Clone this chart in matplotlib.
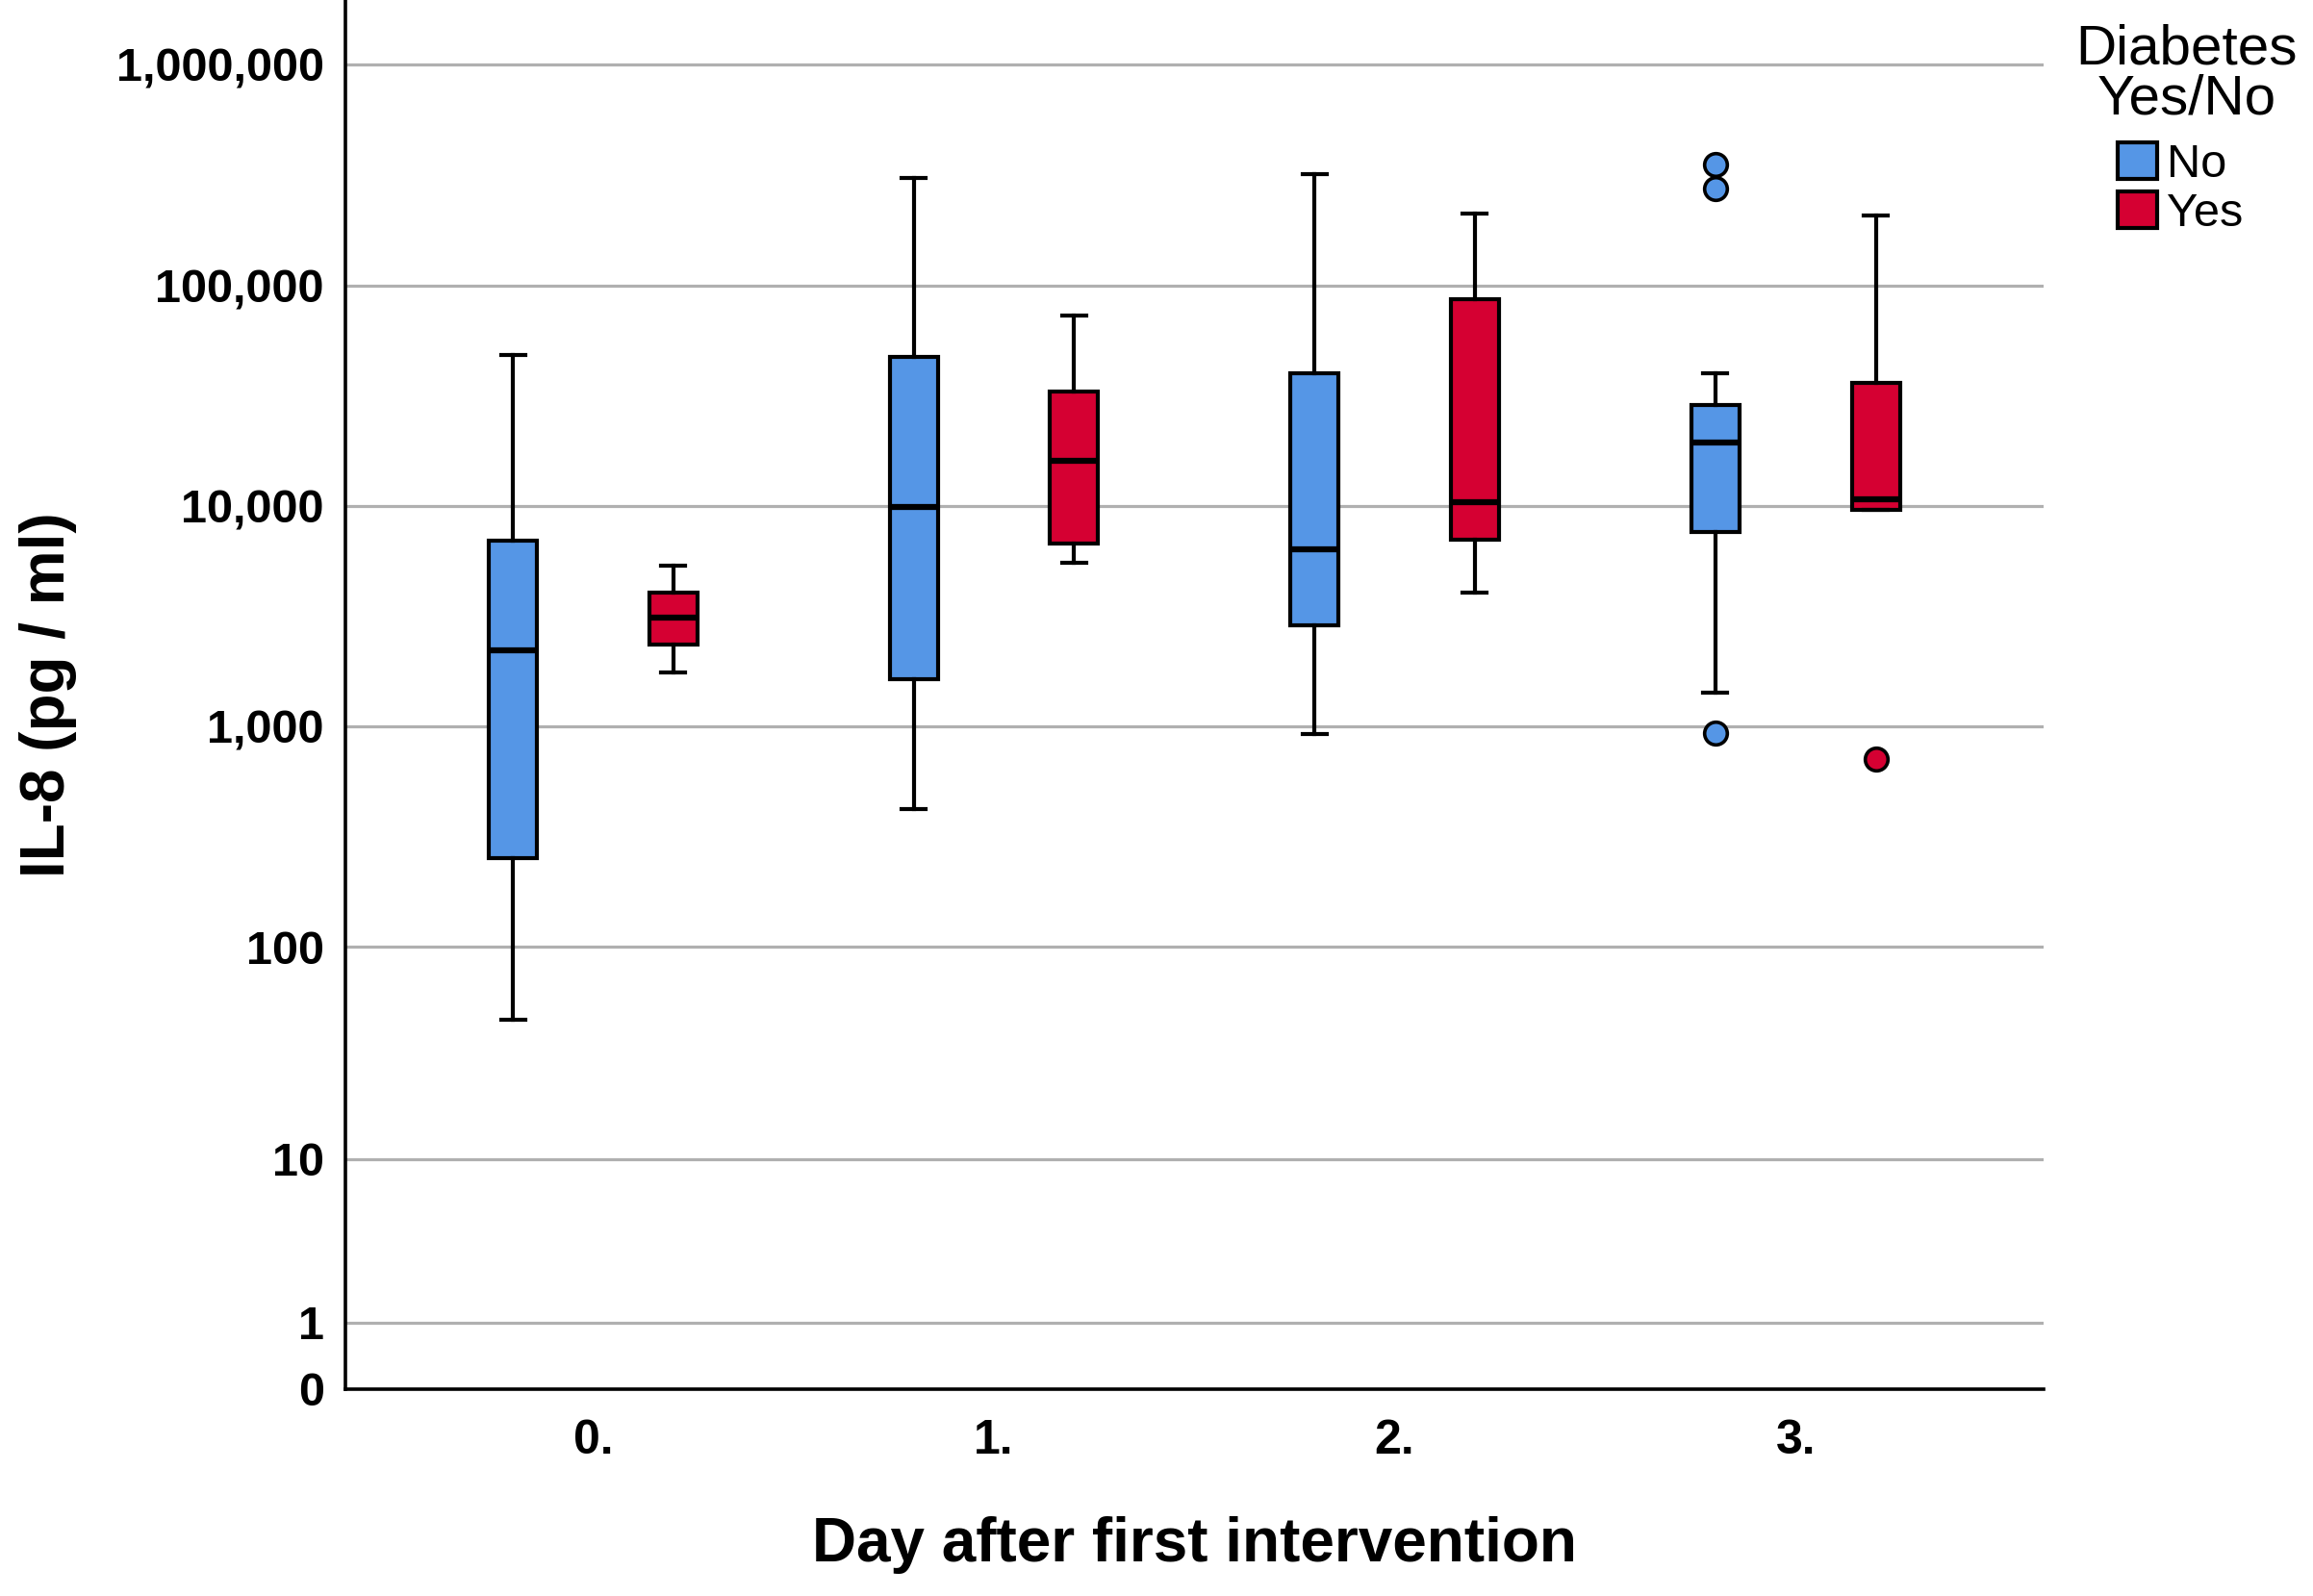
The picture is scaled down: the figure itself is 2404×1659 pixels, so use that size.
import numpy as np
import matplotlib
matplotlib.use("Agg")
import matplotlib.pyplot as plt
from matplotlib.patches import Patch
from matplotlib.ticker import FixedLocator, FixedFormatter

plt.rcParams['font.family'] = ['Liberation Sans', 'DejaVu Sans']

# values (pg/ml)
days = ['0.', '1.', '2.', '3.']
groups = ['No', 'Yes']

no_whislo = [46, 422, 926, 1425]
no_q1 = [254, 1636, 2890, 7620]
no_med = [2225, 9890, 6340, 19460]
no_q3 = [6950, 47500, 40100, 28600]
no_whishi = [48300, 305600, 320000, 40100]
no_fliers = [[], [], [], [351400, 274600, 940]]

yes_whislo = [1767, 5520, 4055, 9600]
yes_q1 = [2366, 6735, 7050, 9600]
yes_med = [3120, 15950, 10370, 10690]
yes_q3 = [4055, 32880, 86600, 36050]
yes_whishi = [5350, 73100, 211400, 208000]
yes_fliers = [[], [], [], [713]]

ytick_vals = [0, 1, 10, 100, 1000, 10000, 100000, 1000000]
ytick_labels = ['0', '1', '10', '100', '1,000', '10,000', '100,000', '1,000,000']

blue = '#5596E6'
red = '#D50032'


def make_stats(lo, q1, med, q3, hi, fl):
    return [dict(whislo=a, q1=b, med=c, q3=d, whishi=e, fliers=f)
            for a, b, c, d, e, f in zip(lo, q1, med, q3, hi, fl)]


fig = plt.figure(figsize=(24.04, 16.59), dpi=100)
ax = fig.add_axes([0.1493, 0.1296, 0.7341, 0.8704])

# log10(x + 1) axis so that 0 can be shown
ax.set_yscale('function', functions=(lambda v: np.log10(np.asarray(v) + 1.0),
                                     lambda t: 10.0 ** np.asarray(t) - 1.0))

ax.yaxis.grid(True, color='#B0B0B0', linewidth=2.3, zorder=0)
ax.set_axisbelow(True)

pos = np.arange(len(days))
sets = [(make_stats(no_whislo, no_q1, no_med, no_q3, no_whishi, no_fliers), blue, -0.2),
        (make_stats(yes_whislo, yes_q1, yes_med, yes_q3, yes_whishi, yes_fliers), red, 0.2)]
for stats, col, off in sets:
    ax.bxp(stats, positions=pos + off, widths=0.12, capwidths=0.06,
           patch_artist=True, showfliers=True,
           boxprops=dict(facecolor=col, edgecolor='black', linewidth=3.0),
           medianprops=dict(color='black', linewidth=4.5),
           whiskerprops=dict(color='black', linewidth=3.0),
           capprops=dict(color='black', linewidth=3.0),
           flierprops=dict(marker='o', markerfacecolor=col, markeredgecolor='black',
                           markersize=17, markeredgewidth=2.6))

ax.set_xlim(-0.618, 3.618)
ax.set_ylim(0, 10 ** 6.292 - 1)
ax.set_xticks(pos)
ax.set_xticklabels(days)
ax.yaxis.set_major_locator(FixedLocator(ytick_vals))
ax.yaxis.set_major_formatter(FixedFormatter(ytick_labels))
ax.yaxis.set_minor_locator(FixedLocator([]))
ax.tick_params(axis='y', length=0, pad=16, labelsize=35)
ax.tick_params(axis='x', length=0, pad=22, labelsize=36)
for lab in ax.get_xticklabels() + ax.get_yticklabels():
    lab.set_fontweight('bold')

for s in ['top', 'right']:
    ax.spines[s].set_visible(False)
for s in ['left', 'bottom']:
    ax.spines[s].set_linewidth(2.6)

ax.set_xlabel('Day after first intervention', fontsize=46, fontweight='bold')
ax.xaxis.set_label_coords(0.5, -0.112)
ax.xaxis.label.set_va('center')
ax.set_ylabel('IL-8 (pg / ml)', fontsize=46, fontweight='bold')
ax.yaxis.set_label_coords(-0.175, 0.5)
ax.yaxis.label.set_va('center')

fig.text(0.9455, 0.985, 'Diabetes\nYes/No', ha='center', va='top',
         fontsize=42, linespacing=0.95)
handles = [Patch(facecolor=blue, edgecolor='black', linewidth=3.0),
           Patch(facecolor=red, edgecolor='black', linewidth=3.0)]
fig.legend(handles, groups, loc='upper left', bbox_to_anchor=(0.9155, 0.911),
           frameon=False, fontsize=35, handlelength=0.85, handleheight=0.85,
           handletextpad=0.2, labelspacing=0.1, borderpad=0, borderaxespad=0)

fig.savefig('out.png', dpi=100)
